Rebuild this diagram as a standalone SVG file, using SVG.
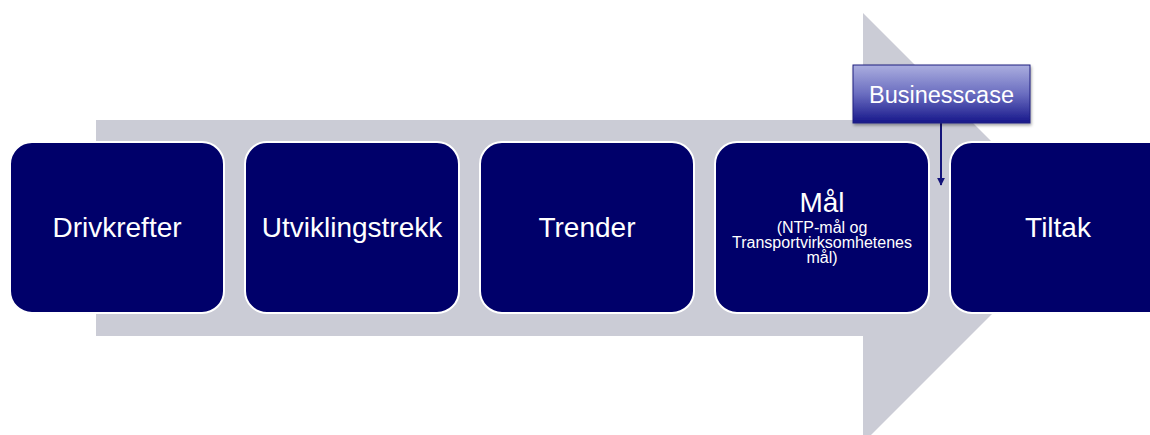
<svg xmlns="http://www.w3.org/2000/svg" width="1150" height="435" viewBox="0 0 1150 435">
<style>
.box{fill:#00006A;stroke:#FFFFFF;stroke-width:2}
.t{font-family:"Liberation Sans",Arial,sans-serif;fill:#FFFFFF;text-anchor:middle}
.big{font-size:28px}
.small{font-size:16px}
.conn{stroke:#14147A;stroke-width:2;fill:none}
</style>
<defs>
<linearGradient id="bcg" x1="0" y1="0" x2="0" y2="1">
<stop offset="0" stop-color="#ABAEDF"/>
<stop offset="0.5" stop-color="#6A6DC0"/>
<stop offset="1" stop-color="#16168A"/>
</linearGradient>
<filter id="sh" x="-10%" y="-20%" width="130%" height="150%">
<feDropShadow dx="1" dy="2" stdDeviation="1.5" flood-color="#000000" flood-opacity="0.35"/>
</filter>
<marker id="ah" viewBox="0 0 10 10" refX="9" refY="5" markerWidth="4" markerHeight="4" orient="auto" markerUnits="strokeWidth">
<path d="M0,0 L10,5 L0,10 Z" fill="#14147A"/>
</marker>
</defs>
<rect width="1150" height="435" fill="#FFFFFF"/>
<polygon id="bigarrow" points="96,120 863,120 863,13 1078,228 863,443 863,336 96,336" fill="#CBCCD6"/>
<g id="n1"><rect class="box" x="10" y="142" width="214" height="171" rx="22"/><text class="t big" x="117" y="237">Drivkrefter</text></g>
<g id="n2"><rect class="box" x="245" y="142" width="214" height="171" rx="22"/><text class="t big" x="352" y="237">Utviklingstrekk</text></g>
<g id="n3"><rect class="box" x="480" y="142" width="214" height="171" rx="22"/><text class="t big" x="587" y="237">Trender</text></g>
<g id="n4"><rect class="box" x="715" y="142" width="214" height="171" rx="22"/>
<text class="t big" x="822" y="212">Mål</text>
<text class="t small" x="822" y="233">(NTP-mål og</text>
<text class="t small" x="822" y="248">Transportvirksomhetenes</text>
<text class="t small" x="822" y="263">mål)</text></g>
<g id="n5"><rect class="box" x="950" y="142" width="230" height="171" rx="22"/><text class="t big" x="1058" y="237">Tiltak</text></g>
<g id="connectors"><line class="conn" x1="941" y1="123" x2="941" y2="185" marker-end="url(#ah)"/></g>
<g id="n6"><rect x="853" y="65" width="177" height="58" fill="url(#bcg)" stroke="#1E1E80" stroke-width="1" filter="url(#sh)"/><text class="t" x="941.5" y="103" font-size="23.5">Businesscase</text></g>
</svg>
